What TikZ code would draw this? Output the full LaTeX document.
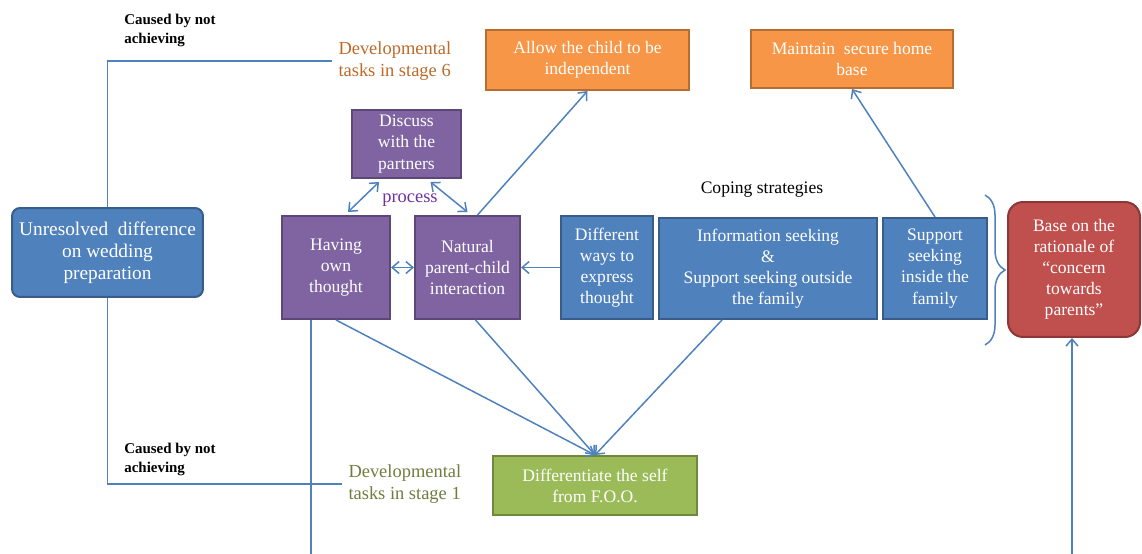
\documentclass[tikz,border=0pt]{standalone}
\usepackage{fontspec}
\setmainfont{Liberation Serif}
\usepackage{xcolor}
\usepackage{tikz}
\usetikzlibrary{calc,arrows.meta}
\usetikzlibrary{decorations.pathreplacing}

\definecolor{lnBlue}{RGB}{79,129,189}
\definecolor{bxBlue}{RGB}{79,129,189}
\definecolor{bdBlue}{RGB}{56,93,138}
\definecolor{bxPurple}{RGB}{128,100,162}
\definecolor{bdPurple}{RGB}{92,71,118}
\definecolor{bxOrange}{RGB}{247,150,70}
\definecolor{bdOrange}{RGB}{182,109,49}
\definecolor{bxGreen}{RGB}{155,187,89}
\definecolor{bdGreen}{RGB}{113,137,63}
\definecolor{bxRed}{RGB}{192,80,77}
\definecolor{bdRed}{RGB}{140,56,54}
\definecolor{txStageSix}{RGB}{190,105,40}
\definecolor{txStageOne}{RGB}{112,125,62}
\definecolor{txProcess}{RGB}{112,48,160}

\tikzstyle{tsBoxText} = [ 
    text=white, 
    font=\fontsize{10}{12}\selectfont
]
\tikzstyle{tsBox} = [ 
    rectangle,
    tsBoxText,
    align=center,
    inner sep=0pt,
    line width=0.4mm]
\tikzstyle{tsPurple} = [tsBox, fill=bxPurple, draw=bdPurple]
\tikzstyle{tsBlue} = [tsBox, fill=bxBlue, draw=bdBlue]
\tikzstyle{tsOrange} = [tsBox, fill=bxOrange, draw=bdOrange]
\tikzstyle{tsGreen} = [tsBox, fill=bxGreen, draw=bdGreen]
\tikzstyle{tsRed} = [tsBox, fill=bxRed, draw=bdRed, rounded corners=0.3cm]
\tikzstyle{tsNote} = [ 
    text=black, 
    font=\fontsize{8.5}{10.8}\selectfont\bfseries,
    align=left,
    anchor=north west,
    inner sep=0pt]
\tikzstyle{tsStage} = [ 
    font=\fontsize{10.5}{12.5}\selectfont,
    align=left,
    anchor=west,
    inner ysep=0pt,
    inner xsep=3.5pt]
\tikzstyle{tsLink} = [draw=lnBlue, line width=0.3mm]
\tikzstyle{tsArrow} = [tsLink, -{Straight Barb[length=1.4mm, width=2.4mm]}]
\tikzstyle{tsBiArrow} = [tsLink, {Straight Barb[length=1.4mm, width=2.4mm]}-{Straight Barb[length=1.4mm, width=2.4mm]}]

\begin{document}
\begin{tikzpicture}[x=0.02cm, y=-0.02cm]

	\useasboundingbox (0,0) rectangle (1142,554);

	% boxes
	\node[	tsBlue,
			rounded corners=0.16cm,
			minimum width=3.82cm,
			minimum height=1.78cm,
			font=\fontsize{11}{12.5}\selectfont] (unres) at (107.5,252.5) {Unresolved \ difference\\on wedding\\preparation};

	\node[	tsPurple,
			minimum width=2.18cm,
			minimum height=1.36cm] (discuss) at (406.5,144) {Discuss\\with the\\partners};

	\node[	tsPurple,
			minimum width=2.16cm,
			minimum height=2.06cm] (having) at (336,267.5) {Having\\own\\thought};

	\node[	tsPurple,
			minimum width=2.1cm,
			minimum height=2.06cm] (natural) at (467.5,267.5) {Natural\\parent-child\\interaction};

	\node[	tsBlue,
			minimum width=1.84cm,
			minimum height=2.06cm] (ways) at (607,267.5) {Different\\ways to\\express\\thought};

	\node[	tsBlue,
			minimum width=4.36cm,
			minimum height=2.02cm] (info) at (768,268.5) {Information seeking\\\&\\Support seeking outside\\the family};

	\node[	tsBlue,
			minimum width=2.08cm,
			minimum height=2.02cm] (support) at (935,268.5) {Support\\seeking\\inside the\\family};

	\node[	tsOrange,
			minimum width=4.06cm,
			minimum height=1.2cm] (allow) at (587.5,60) {Allow the child to be\\independent};

	\node[	tsOrange,
			minimum width=4.04cm,
			minimum height=1.16cm] (maintain) at (852,59) {Maintain \ secure home\\base};

	\node[	tsGreen,
			minimum width=4.08cm,
			minimum height=1.18cm] (self) at (595,485.5) {Differentiate the self\\from F.O.O.};

	\node[	tsRed,
			minimum width=2.64cm,
			minimum height=2.7cm] (base) at (1074,269.5) {Base on the\\rationale of\\``concern\\towards\\parents''};

	% texts
	\node[tsNote] (cause6) at (124,14) {Caused by not\\achieving};
	\node[tsNote] (cause1) at (124,443) {Caused by not\\achieving};
	\node[tsStage, text=txStageSix] (dev6) at (332,61) {Developmental\\tasks in stage 6};
	\node[tsStage, text=txStageOne] (dev1) at (342,484) {Developmental\\tasks in stage 1};
	\node[text=txProcess, font=\fontsize{10.5}{12}\selectfont] (process) at (410,200) {process};
	\node[font=\fontsize{10}{12}\selectfont] (coping) at (762,190) {Coping strategies};

	% lines
	\draw[tsLink] (dev6.west) -- (unres.north |- dev6.west) -- (unres.north);
	\draw[tsLink] (dev1.west) -- (unres.south |- dev1.west) -- (unres.south);
	\coordinate (hvBot) at (311,554);
	\draw[tsLink] (hvBot |- having.south) -- (hvBot);
	\coordinate (bsBot) at (1072,554);
	\draw[tsArrow] (bsBot) -- (bsBot |- base.south);

	\draw[tsBiArrow] ($(discuss.south west)+(28,3)$) -- ($(having.north)+(12,-3)$);
	\draw[tsBiArrow] ($(discuss.south)+(24,3)$) -- ($(natural.north)+(0,-3)$);
	\draw[tsBiArrow] (having.east) -- (natural.west);
	\draw[tsArrow] ($(natural.north)+(10,0)$) -- (allow.south);
	\draw[tsArrow] (ways.west) -- (natural.east);
	\draw[tsArrow] (support.north) -- (maintain.south);
	\draw[tsArrow] (having.south) -- (self.north);
	\draw[tsArrow] ($(natural.south)+(8,0)$) -- (self.north);
	\draw[tsArrow] ($(info.south)+(-46,0)$) -- (self.north);

	% brace
	\coordinate (brTop) at (985,195);
	\coordinate (brBot) at (985,345);
	\draw[tsLink, decorate, decoration={brace, amplitude=0.4cm}] (brTop) -- (brBot);

\end{tikzpicture}
\end{document}
